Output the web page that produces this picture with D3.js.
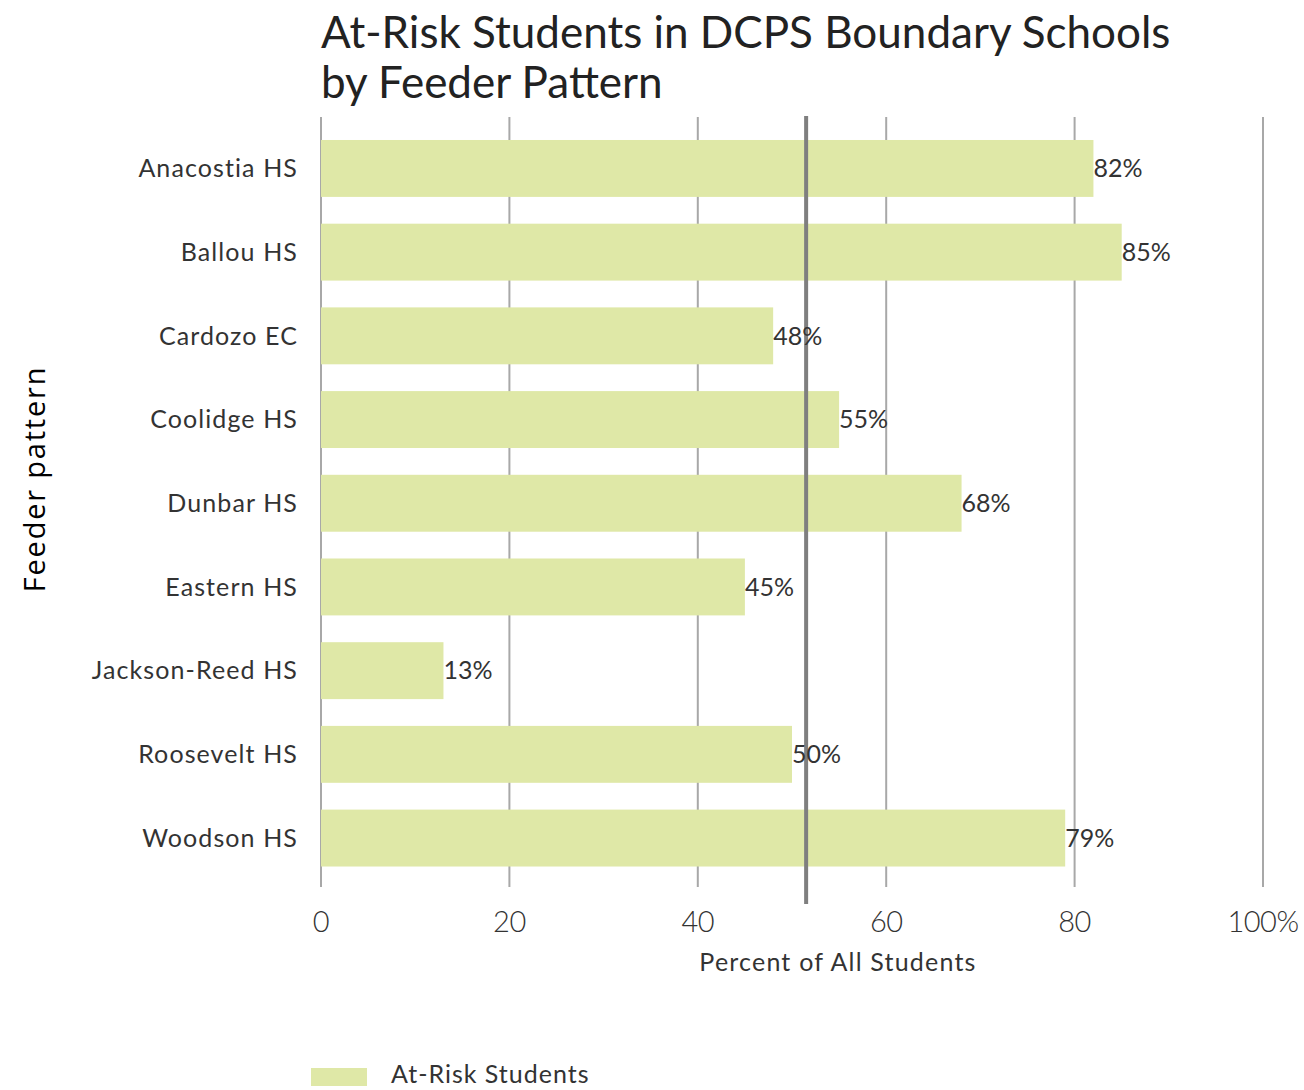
<!DOCTYPE html>
<html><head><meta charset="utf-8">
<script src="https://cdn.jsdelivr.net/npm/d3@7"></script>
<style>body{margin:0;background:#fff}</style>
</head><body>
<script>
const categories = ["Anacostia HS","Ballou HS","Cardozo EC","Coolidge HS","Dunbar HS","Eastern HS","Jackson-Reed HS","Roosevelt HS","Woodson HS"];
const atRisk = [82,85,48,55,68,45,13,50,79];
const xTicks = [0,20,40,60,80,100];
const xTickLabels = ["0","20","40","60","80","100%"];
const referenceValue = [51.5];
const titleLines = ["At-Risk Students in DCPS Boundary Schools","by Feeder Pattern"];

const W=1304,H=1090;
const font = "Lato, 'Open Sans', sans-serif";
const svg = d3.select("body").append("svg").attr("width",W).attr("height",H);

const x = d3.scaleLinear().domain([0,100]).range([321,1263]);
const y = d3.scaleBand().domain(categories).range([113.2,893.3]).paddingInner(0.32).paddingOuter(0.32);

// gridlines
svg.append("g").selectAll("line").data(xTicks).join("line")
  .attr("x1",d=>x(d)).attr("x2",d=>x(d)).attr("y1",117).attr("y2",887)
  .attr("stroke","#a8a8a8").attr("stroke-width",2);

// bars
svg.append("g").selectAll("rect").data(atRisk).join("rect")
  .attr("x",x(0)).attr("y",(d,i)=>y(categories[i]))
  .attr("width",d=>x(d)-x(0)).attr("height",y.bandwidth())
  .attr("fill","#dfe8a7");

// reference line
svg.append("g").selectAll("line").data(referenceValue).join("line")
  .attr("x1",d=>x(d)).attr("x2",d=>x(d)).attr("y1",116).attr("y2",904)
  .attr("stroke","#7f7f7f").attr("stroke-width",4);

// value labels
svg.append("g").selectAll("text").data(atRisk).join("text")
  .attr("x",d=>x(d)).attr("y",(d,i)=>y(categories[i])+y.bandwidth()/2)
  .attr("dy","0.35em").attr("font-family",font).attr("font-size",25)
  .attr("fill","#333").attr("letter-spacing","0")
  .text(d=>d+"%");

// y labels
svg.append("g").selectAll("text").data(categories).join("text")
  .attr("x",298).attr("y",d=>y(d)+y.bandwidth()/2)
  .attr("dy","0.35em").attr("text-anchor","end")
  .attr("font-family",font).attr("font-size",25).attr("fill","#333")
  .attr("letter-spacing","1.1")
  .text(d=>d);

// x tick labels
svg.append("g").selectAll("text").data(xTicks).join("text")
  .attr("x",d=>x(d)).attr("y",922).attr("dy","0.35em").attr("text-anchor","middle")
  .attr("font-family",font).attr("font-size",29).attr("font-weight",300).attr("fill","#333")
  .attr("letter-spacing","-0.5")
  .text((d,i)=>xTickLabels[i]);

// x axis title
svg.append("text").attr("x",838).attr("y",962).attr("dy","0.35em").attr("text-anchor","middle")
  .attr("font-family",font).attr("font-size",25).attr("fill","#333")
  .attr("letter-spacing","1.2")
  .text("Percent of All Students");

// y axis title
svg.append("text").attr("transform","translate(35,479) rotate(-90)")
  .attr("dy","0.35em").attr("text-anchor","middle")
  .attr("font-family","'Open Sans', sans-serif").attr("font-size",29).attr("fill","#000")
  .attr("letter-spacing","1.8")
  .text("Feeder pattern");

// title
svg.append("g").selectAll("text").data(titleLines).join("text")
  .attr("x",321).attr("y",(d,i)=>48+i*50)
  .attr("font-family",font).attr("font-size",44).attr("fill","#222")
  .text(d=>d);

// legend
svg.append("rect").attr("x",311).attr("y",1068).attr("width",56).attr("height",18).attr("fill","#dfe8a7");
svg.append("text").attr("x",391).attr("y",1074).attr("dy","0.35em")
  .attr("font-family",font).attr("font-size",25).attr("fill","#333")
  .attr("letter-spacing","1")
  .text("At-Risk Students");
</script>
</body></html>
